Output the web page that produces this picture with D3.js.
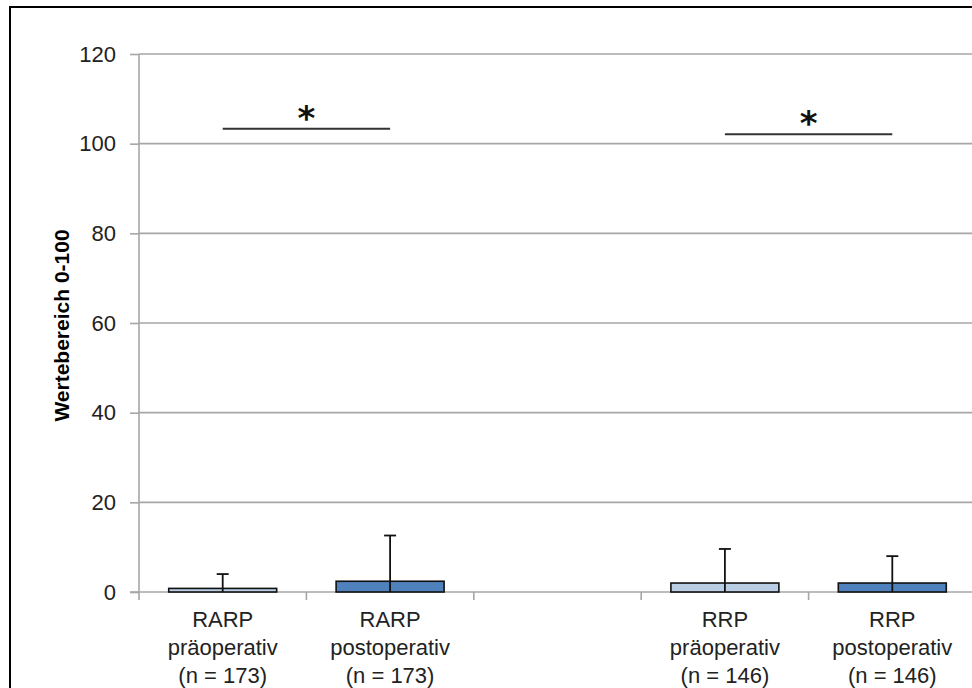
<!DOCTYPE html>
<html>
<head>
<meta charset="utf-8">
<script src="https://cdn.jsdelivr.net/npm/d3@7"></script>
<style>
  html, body { margin: 0; padding: 0; background: #fff; }
  svg { display: block; }
</style>
</head>
<body>
<script>
// Category labels (three lines each); the middle slot is an empty spacer
const groups   = ["RARP", "RARP", "", "RRP", "RRP"];
const phases   = ["präoperativ", "postoperativ", "", "präoperativ", "postoperativ"];
const samples  = ["(n = 173)", "(n = 173)", "", "(n = 146)", "(n = 146)"];
// Mean scores and standard deviations (range 0-100)
const means    = [0.8, 2.4, null, 2.0, 2.0];
const sds      = [3.2, 10.2, null, 7.6, 6.0];
const kinds    = ["pre", "post", null, "pre", "post"];
// Significance markers between category pairs
const sigPairs = [[0, 1], [3, 4]];
const sigLevel = [103.3, 102.1];
const sigLabel = ["*", "*"];
const yTicks   = [0, 20, 40, 60, 80, 100, 120];

const W = 972, H = 688;
const svg = d3.select("body").append("svg").attr("width", W).attr("height", H);

// outer chart frame
svg.append("rect").attr("x", 10).attr("y", 7).attr("width", 1000).attr("height", 800)
  .attr("fill", "none").attr("stroke", "#000").attr("stroke-width", 2);

const plotLeft = 139, plotTop = 54, plotBottom = 592;
const ids = d3.range(groups.length);
const x = d3.scaleBand().domain(ids).range([plotLeft, plotLeft + 167.4 * ids.length]).padding(0);
const y = d3.scaleLinear().domain([0, 120]).range([plotBottom, plotTop]);

const fill = { pre: "#B9CDE5", post: "#4F81BD" };
const gridColor = "#A6A6A6";

// horizontal gridlines
svg.append("g").selectAll("line").data(yTicks.filter(d => d > 0)).join("line")
  .attr("x1", plotLeft).attr("x2", W).attr("y1", d => y(d)).attr("y2", d => y(d))
  .attr("stroke", gridColor).attr("stroke-width", 1.6);

// y axis
const yAxis = svg.append("g").attr("transform", `translate(${plotLeft},0)`)
  .call(d3.axisLeft(y).tickValues(yTicks).tickSize(9).tickPadding(14));
yAxis.select(".domain").remove();
yAxis.selectAll(".tick line").attr("stroke", gridColor).attr("stroke-width", 1.6);
yAxis.selectAll(".tick text").attr("fill", "#222")
  .style("font-family", "'Liberation Sans', Arial, sans-serif").style("font-size", "22px");
svg.append("line").attr("x1", plotLeft).attr("x2", plotLeft).attr("y1", plotTop).attr("y2", plotBottom + 8)
  .attr("stroke", gridColor).attr("stroke-width", 1.6);

// x axis baseline and category separators
svg.append("line").attr("x1", plotLeft - 9).attr("x2", W).attr("y1", plotBottom).attr("y2", plotBottom)
  .attr("stroke", gridColor).attr("stroke-width", 1.6);
svg.append("g").selectAll("line").data(ids.slice(1)).join("line")
  .attr("x1", d => x(d)).attr("x2", d => x(d)).attr("y1", plotBottom).attr("y2", plotBottom + 8)
  .attr("stroke", gridColor).attr("stroke-width", 1.6);

// bars
const barW = x.bandwidth() * 0.645;
const cx = i => x(i) + x.bandwidth() / 2;
const barIds = ids.filter(i => means[i] !== null);
svg.append("g").selectAll("rect").data(barIds).join("rect")
  .attr("x", i => cx(i) - barW / 2).attr("width", barW)
  .attr("y", i => y(means[i])).attr("height", i => y(0) - y(means[i]))
  .attr("fill", i => fill[kinds[i]]).attr("stroke", "#111").attr("stroke-width", 1.6);

// error bars (clipped at zero)
const eb = svg.append("g").attr("stroke", "#111").attr("stroke-width", 1.8);
barIds.forEach(i => {
  const hi = means[i] + sds[i], lo = Math.max(0, means[i] - sds[i]);
  eb.append("line").attr("x1", cx(i)).attr("x2", cx(i)).attr("y1", y(lo)).attr("y2", y(hi));
  eb.append("line").attr("x1", cx(i) - 6).attr("x2", cx(i) + 6).attr("y1", y(hi)).attr("y2", y(hi));
});

// significance lines
sigPairs.forEach((p, k) => {
  const yy = y(sigLevel[k]);
  svg.append("line").attr("x1", cx(p[0])).attr("x2", cx(p[1])).attr("y1", yy).attr("y2", yy)
    .attr("stroke", "#333").attr("stroke-width", 2);
  svg.append("text").attr("x", (cx(p[0]) + cx(p[1])) / 2).attr("y", yy + 1)
    .attr("text-anchor", "middle").attr("fill", "#111")
    .style("font-family", "'DejaVu Sans', sans-serif").style("font-size", "34px").style("font-weight", "bold")
    .text(sigLabel[k]);
});

// category labels
const catFont = "'Liberation Sans', Arial, sans-serif";
ids.forEach(i => {
  if (!groups[i]) return;
  const t = svg.append("text").attr("x", cx(i)).attr("text-anchor", "middle").attr("fill", "#222")
    .style("font-family", catFont).style("font-size", "22px");
  [groups[i], phases[i], samples[i]].forEach((s, j) => {
    t.append("tspan").attr("x", cx(i)).attr("y", 627 + j * 28).text(s);
  });
});

// y axis title
svg.append("text").attr("transform", `translate(69,${(218 + 433) / 2}) rotate(-90)`)
  .attr("text-anchor", "middle").attr("fill", "#000")
  .style("font-family", catFont).style("font-size", "21px").style("font-weight", "bold")
  .text("Wertebereich 0-100");
</script>
</body>
</html>
